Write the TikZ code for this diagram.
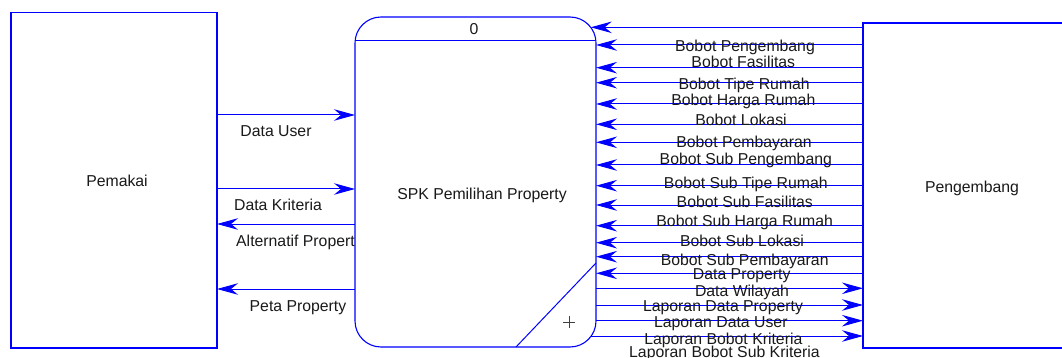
\documentclass[tikz,border=0pt]{standalone}
\usepackage{fontspec}
\setmainfont{Liberation Sans}
\usetikzlibrary{arrows.meta,calc}
\begin{document}
\begin{tikzpicture}[x=1pt,y=-1pt,
  flow/.style={draw=blue, line width=1pt},
  tip/.style={-{Stealth[length=21pt,width=11.5pt,inset=7pt]}},
  box/.style={draw=blue, line width=1.1pt, fill=white, inner sep=0pt, outer sep=0pt},
  lbl/.style={font=\fontsize{15.8}{18}\selectfont, anchor=base, inner sep=0pt, text=black!90}]
\useasboundingbox (0,0) rectangle (1062,358);
% boxes
\node[box, minimum width=206pt, minimum height=335.5pt] (pemakai) at (114,180.25) {};
\node[box, rounded corners=26pt, minimum width=241pt, minimum height=330pt] (proc) at (475.5,182) {};
\node[box, minimum width=219pt, minimum height=325pt] (peng) at (972.5,185.5) {};
% process decorations
\draw[blue, line width=1pt] (proc.west |- 0,41) -- (proc.east |- 0,41);
\draw[blue, line width=1pt] ($(proc.south)+(40.5,0)$) -- (proc.east |- 0,263);
\coordinate (plus) at (569,322);
\draw[black!75, line width=0.9pt] ($(plus)+(-6,0)$) -- ($(plus)+(6,0)$) ($(plus)+(0,-6)$) -- ($(plus)+(0,6)$);
% texts in boxes
\node[lbl] (t0) at (474,35) {0};
\node[lbl] (tspk) at (482,199.3) {SPK Pemilihan Property};
\node[lbl] (tpem) at (117,186.7) {Pemakai};
\node[lbl] (tpeng) at (972,192.7) {Pengembang};
% left flows
\draw[flow,tip] (pemakai.east |- 0,115) -- (proc.west |- 0,115);
\draw[flow,tip] (pemakai.east |- 0,189) -- (proc.west |- 0,189);
\draw[flow,tip] (proc.west |- 0,224) -- (pemakai.east |- 0,224);
\draw[flow,tip] (proc.west |- 0,289) -- (pemakai.east |- 0,289);
\node[lbl] (lDU) at (276,136.7) {Data User};
\node[lbl] (lDK) at (278,210.7) {Data Kriteria};
\node[lbl,anchor=base west] (lAP) at (236,246) {Alternatif Propert};
\node[lbl] (lPP) at (298,311) {Peta Property};
% right incoming flows
\foreach \y/\s in {27.3/-5.3,45/0,67.7/0,82.7/0,104/0,124.3/0,142.3/0,165/0,185.7/0,205/0,225.7/0,242.7/0,256.7/0,273.3/0}{
  \draw[flow,tip] (peng.west |- 0,\y) -- ($(proc.east |- 0,\y)+(\s,0)$);
}
% right outgoing flows
\foreach \y/\s in {288.3/0,305/0,320.7/0,336/-5}{
  \draw[flow,tip] ($(proc.east |- 0,\y)+(\s,0)$) -- (peng.west |- 0,\y);
}
% right labels
\foreach \n/\x/\y/\t in {
  r1/745/51.7/Bobot Pengembang,
  r2/743.3/67.7/Bobot Fasilitas,
  r3/744.2/90/Bobot Tipe Rumah,
  r4/743.3/106/Bobot Harga Rumah,
  r5/741/126/Bobot Lokasi,
  r6/744/147.3/Bobot Pembayaran,
  r7/745.8/164.3/Bobot Sub Pengembang,
  r8/745.8/189/Bobot Sub Tipe Rumah,
  r9/744.8/207.7/Bobot Sub Fasilitas,
  r10/744.7/226.7/Bobot Sub Harga Rumah,
  r11/742/246.7/Bobot Sub Lokasi,
  r12/744.7/265/Bobot Sub Pembayaran,
  r13/741.7/279/Data Property,
  r14/742/296.7/Data Wilayah,
  r15/723/311/Laporan Data Property,
  r16/720.8/327.3/Laporan Data User,
  r17/723.3/344.7/Laporan Bobot Kriteria,
  r18/724.5/357.3/Laporan Bobot Sub Kriteria}{
  \node[lbl] (\n) at (\x,\y) {\t};
}
\end{tikzpicture}
\end{document}
